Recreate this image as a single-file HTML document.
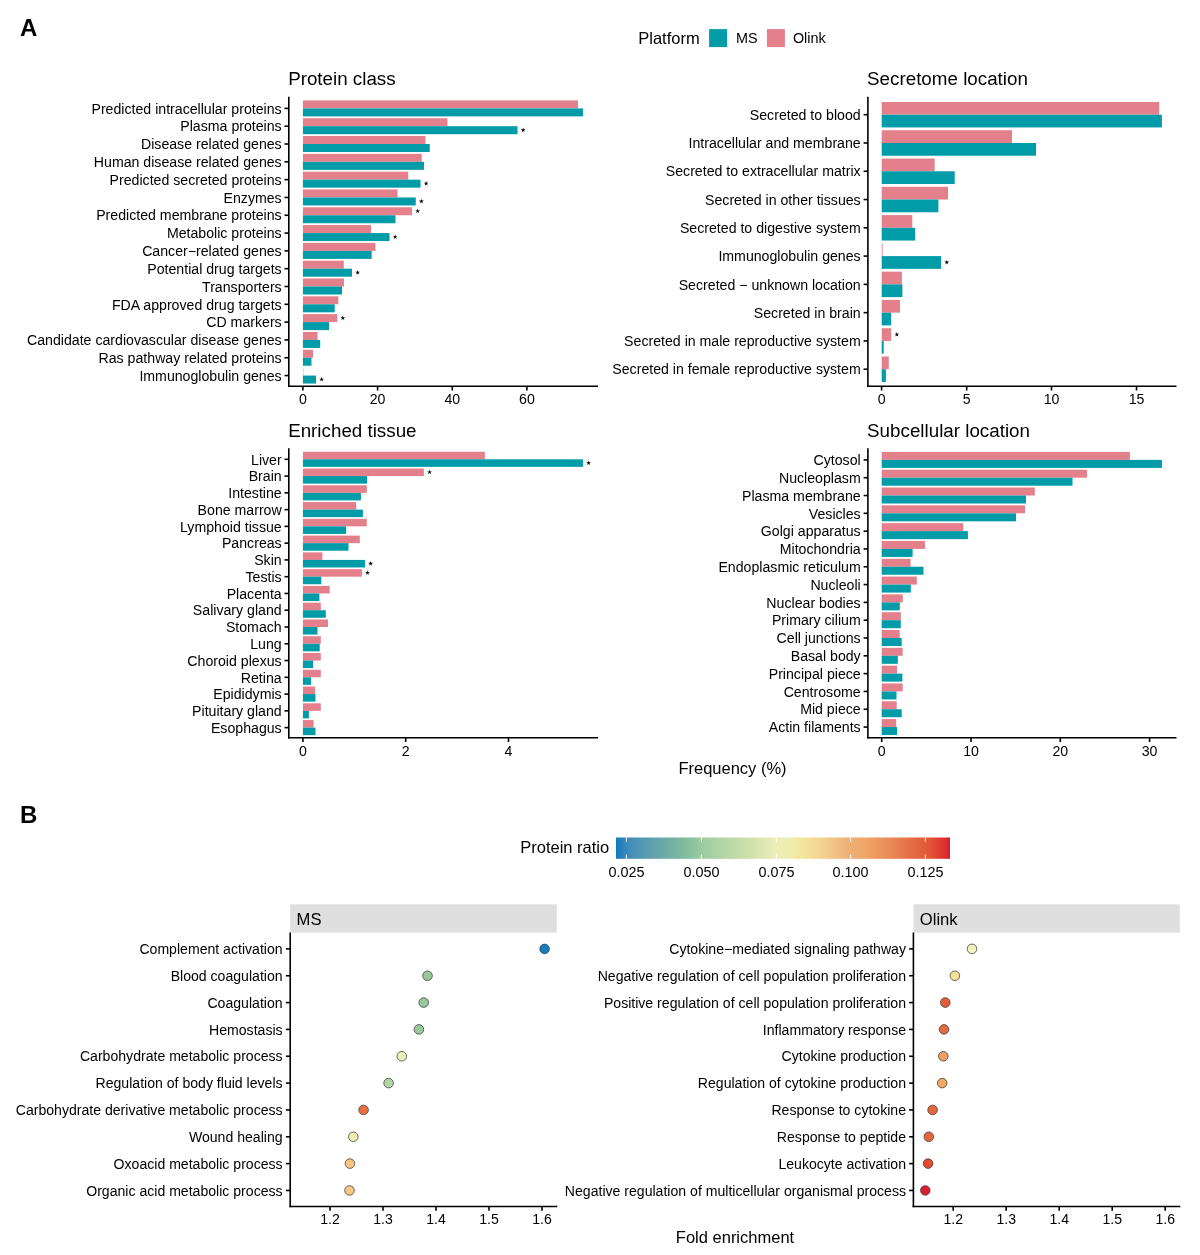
<!DOCTYPE html>
<html><head><meta charset="utf-8"><title>Figure</title>
<style>
html,body{margin:0;padding:0;background:#fff;}
body{width:1200px;height:1255px;overflow:hidden;}
svg{display:block;font-family:"Liberation Sans", sans-serif;will-change:transform;}
</style></head><body>
<svg width="1200" height="1255" viewBox="0 0 1200 1255">
<rect width="1200" height="1255" fill="#fff"/>
<text x="20.10" y="36.20" font-size="24" font-weight="bold" fill="#000">A</text>
<text x="638.25" y="43.60" font-size="16.5" fill="#000">Platform</text>
<rect x="709.10" y="29.10" width="18.00" height="18.00" fill="#029BA8"/>
<text x="735.92" y="43.30" font-size="14.4" fill="#000">MS</text>
<rect x="766.90" y="29.10" width="18.00" height="18.00" fill="#E4808C"/>
<text x="792.92" y="43.30" font-size="14.4" fill="#000">Olink</text>
<text x="288.15" y="85.30" font-size="18.8" fill="#000">Protein class</text>
<rect x="302.90" y="100.40" width="275.10" height="8.00" fill="#E4808C"/>
<rect x="302.90" y="108.40" width="280.10" height="8.00" fill="#029BA8"/>
<line x1="284.50" y1="108.40" x2="288.80" y2="108.40" stroke="#000" stroke-width="1.6" stroke-linecap="butt"/>
<text x="281.70" y="113.60" font-size="14.15" text-anchor="end" fill="#000">Predicted intracellular proteins</text>
<rect x="302.90" y="118.21" width="144.60" height="8.00" fill="#E4808C"/>
<rect x="302.90" y="126.21" width="214.60" height="8.00" fill="#029BA8"/>
<polygon points="523.15,127.51 523.69,129.37 525.62,129.31 524.02,130.39 524.68,132.21 523.15,131.03 521.62,132.21 522.28,130.39 520.68,129.31 522.61,129.37" fill="#000"/>
<line x1="284.50" y1="126.21" x2="288.80" y2="126.21" stroke="#000" stroke-width="1.6" stroke-linecap="butt"/>
<text x="281.70" y="131.41" font-size="14.15" text-anchor="end" fill="#000">Plasma proteins</text>
<rect x="302.90" y="136.02" width="122.60" height="8.00" fill="#E4808C"/>
<rect x="302.90" y="144.02" width="126.85" height="8.00" fill="#029BA8"/>
<line x1="284.50" y1="144.02" x2="288.80" y2="144.02" stroke="#000" stroke-width="1.6" stroke-linecap="butt"/>
<text x="281.70" y="149.22" font-size="14.15" text-anchor="end" fill="#000">Disease related genes</text>
<rect x="302.90" y="153.83" width="118.85" height="8.00" fill="#E4808C"/>
<rect x="302.90" y="161.83" width="121.10" height="8.00" fill="#029BA8"/>
<line x1="284.50" y1="161.83" x2="288.80" y2="161.83" stroke="#000" stroke-width="1.6" stroke-linecap="butt"/>
<text x="281.70" y="167.03" font-size="14.15" text-anchor="end" fill="#000">Human disease related genes</text>
<rect x="302.90" y="171.64" width="105.35" height="8.00" fill="#E4808C"/>
<rect x="302.90" y="179.64" width="117.60" height="8.00" fill="#029BA8"/>
<polygon points="426.15,180.94 426.69,182.80 428.62,182.74 427.02,183.82 427.68,185.64 426.15,184.46 424.62,185.64 425.28,183.82 423.68,182.74 425.61,182.80" fill="#000"/>
<line x1="284.50" y1="179.64" x2="288.80" y2="179.64" stroke="#000" stroke-width="1.6" stroke-linecap="butt"/>
<text x="281.70" y="184.84" font-size="14.15" text-anchor="end" fill="#000">Predicted secreted proteins</text>
<rect x="302.90" y="189.45" width="94.60" height="8.00" fill="#E4808C"/>
<rect x="302.90" y="197.45" width="112.85" height="8.00" fill="#029BA8"/>
<polygon points="421.40,198.75 421.94,200.61 423.87,200.55 422.27,201.63 422.93,203.45 421.40,202.27 419.87,203.45 420.53,201.63 418.93,200.55 420.86,200.61" fill="#000"/>
<line x1="284.50" y1="197.45" x2="288.80" y2="197.45" stroke="#000" stroke-width="1.6" stroke-linecap="butt"/>
<text x="281.70" y="202.65" font-size="14.15" text-anchor="end" fill="#000">Enzymes</text>
<rect x="302.90" y="207.26" width="109.10" height="8.00" fill="#E4808C"/>
<rect x="302.90" y="215.26" width="92.60" height="8.00" fill="#029BA8"/>
<polygon points="417.65,208.56 418.19,210.42 420.12,210.36 418.52,211.44 419.18,213.26 417.65,212.08 416.12,213.26 416.78,211.44 415.18,210.36 417.11,210.42" fill="#000"/>
<line x1="284.50" y1="215.26" x2="288.80" y2="215.26" stroke="#000" stroke-width="1.6" stroke-linecap="butt"/>
<text x="281.70" y="220.46" font-size="14.15" text-anchor="end" fill="#000">Predicted membrane proteins</text>
<rect x="302.90" y="225.07" width="68.10" height="8.00" fill="#E4808C"/>
<rect x="302.90" y="233.07" width="86.60" height="8.00" fill="#029BA8"/>
<polygon points="395.15,234.37 395.69,236.23 397.62,236.17 396.02,237.25 396.68,239.07 395.15,237.89 393.62,239.07 394.28,237.25 392.68,236.17 394.61,236.23" fill="#000"/>
<line x1="284.50" y1="233.07" x2="288.80" y2="233.07" stroke="#000" stroke-width="1.6" stroke-linecap="butt"/>
<text x="281.70" y="238.27" font-size="14.15" text-anchor="end" fill="#000">Metabolic proteins</text>
<rect x="302.90" y="242.88" width="72.60" height="8.00" fill="#E4808C"/>
<rect x="302.90" y="250.88" width="68.80" height="8.00" fill="#029BA8"/>
<line x1="284.50" y1="250.88" x2="288.80" y2="250.88" stroke="#000" stroke-width="1.6" stroke-linecap="butt"/>
<text x="281.70" y="256.08" font-size="14.15" text-anchor="end" fill="#000">Cancer−related genes</text>
<rect x="302.90" y="260.69" width="40.90" height="8.00" fill="#E4808C"/>
<rect x="302.90" y="268.69" width="49.10" height="8.00" fill="#029BA8"/>
<polygon points="357.65,269.99 358.19,271.85 360.12,271.79 358.52,272.87 359.18,274.69 357.65,273.51 356.12,274.69 356.78,272.87 355.18,271.79 357.11,271.85" fill="#000"/>
<line x1="284.50" y1="268.69" x2="288.80" y2="268.69" stroke="#000" stroke-width="1.6" stroke-linecap="butt"/>
<text x="281.70" y="273.89" font-size="14.15" text-anchor="end" fill="#000">Potential drug targets</text>
<rect x="302.90" y="278.50" width="41.10" height="8.00" fill="#E4808C"/>
<rect x="302.90" y="286.50" width="39.10" height="8.00" fill="#029BA8"/>
<line x1="284.50" y1="286.50" x2="288.80" y2="286.50" stroke="#000" stroke-width="1.6" stroke-linecap="butt"/>
<text x="281.70" y="291.70" font-size="14.15" text-anchor="end" fill="#000">Transporters</text>
<rect x="302.90" y="296.31" width="35.40" height="8.00" fill="#E4808C"/>
<rect x="302.90" y="304.31" width="31.80" height="8.00" fill="#029BA8"/>
<line x1="284.50" y1="304.31" x2="288.80" y2="304.31" stroke="#000" stroke-width="1.6" stroke-linecap="butt"/>
<text x="281.70" y="309.51" font-size="14.15" text-anchor="end" fill="#000">FDA approved drug targets</text>
<rect x="302.90" y="314.12" width="34.30" height="8.00" fill="#E4808C"/>
<rect x="302.90" y="322.12" width="26.10" height="8.00" fill="#029BA8"/>
<polygon points="342.85,315.42 343.39,317.28 345.32,317.22 343.72,318.30 344.38,320.12 342.85,318.94 341.32,320.12 341.98,318.30 340.38,317.22 342.31,317.28" fill="#000"/>
<line x1="284.50" y1="322.12" x2="288.80" y2="322.12" stroke="#000" stroke-width="1.6" stroke-linecap="butt"/>
<text x="281.70" y="327.32" font-size="14.15" text-anchor="end" fill="#000">CD markers</text>
<rect x="302.90" y="331.93" width="14.60" height="8.00" fill="#E4808C"/>
<rect x="302.90" y="339.93" width="17.30" height="8.00" fill="#029BA8"/>
<line x1="284.50" y1="339.93" x2="288.80" y2="339.93" stroke="#000" stroke-width="1.6" stroke-linecap="butt"/>
<text x="281.70" y="345.13" font-size="14.15" text-anchor="end" fill="#000">Candidate cardiovascular disease genes</text>
<rect x="302.90" y="349.74" width="10.10" height="8.00" fill="#E4808C"/>
<rect x="302.90" y="357.74" width="8.60" height="8.00" fill="#029BA8"/>
<line x1="284.50" y1="357.74" x2="288.80" y2="357.74" stroke="#000" stroke-width="1.6" stroke-linecap="butt"/>
<text x="281.70" y="362.94" font-size="14.15" text-anchor="end" fill="#000">Ras pathway related proteins</text>
<rect x="302.90" y="367.55" width="0.40" height="8.00" fill="#E4808C"/>
<rect x="302.90" y="375.55" width="13.10" height="8.00" fill="#029BA8"/>
<polygon points="321.65,376.85 322.19,378.71 324.12,378.65 322.52,379.73 323.18,381.55 321.65,380.37 320.12,381.55 320.78,379.73 319.18,378.65 321.11,378.71" fill="#000"/>
<line x1="284.50" y1="375.55" x2="288.80" y2="375.55" stroke="#000" stroke-width="1.6" stroke-linecap="butt"/>
<text x="281.70" y="380.75" font-size="14.15" text-anchor="end" fill="#000">Immunoglobulin genes</text>
<line x1="288.80" y1="96.80" x2="288.80" y2="387.00" stroke="#000" stroke-width="1.6" stroke-linecap="butt"/>
<line x1="288.00" y1="386.20" x2="598.00" y2="386.20" stroke="#000" stroke-width="1.6" stroke-linecap="butt"/>
<line x1="302.90" y1="386.20" x2="302.90" y2="390.50" stroke="#000" stroke-width="1.6" stroke-linecap="butt"/>
<text x="302.90" y="404.30" font-size="14.15" text-anchor="middle" fill="#000">0</text>
<line x1="377.60" y1="386.20" x2="377.60" y2="390.50" stroke="#000" stroke-width="1.6" stroke-linecap="butt"/>
<text x="377.60" y="404.30" font-size="14.15" text-anchor="middle" fill="#000">20</text>
<line x1="452.30" y1="386.20" x2="452.30" y2="390.50" stroke="#000" stroke-width="1.6" stroke-linecap="butt"/>
<text x="452.30" y="404.30" font-size="14.15" text-anchor="middle" fill="#000">40</text>
<line x1="526.90" y1="386.20" x2="526.90" y2="390.50" stroke="#000" stroke-width="1.6" stroke-linecap="butt"/>
<text x="526.90" y="404.30" font-size="14.15" text-anchor="middle" fill="#000">60</text>
<text x="867.10" y="85.30" font-size="18.8" fill="#000">Secretome location</text>
<rect x="881.70" y="101.97" width="277.50" height="12.73" fill="#E4808C"/>
<rect x="881.70" y="114.70" width="280.20" height="12.73" fill="#029BA8"/>
<line x1="863.60" y1="114.70" x2="867.90" y2="114.70" stroke="#000" stroke-width="1.6" stroke-linecap="butt"/>
<text x="860.70" y="119.90" font-size="14.15" text-anchor="end" fill="#000">Secreted to blood</text>
<rect x="881.70" y="130.25" width="130.30" height="12.73" fill="#E4808C"/>
<rect x="881.70" y="142.98" width="154.30" height="12.73" fill="#029BA8"/>
<line x1="863.60" y1="142.98" x2="867.90" y2="142.98" stroke="#000" stroke-width="1.6" stroke-linecap="butt"/>
<text x="860.70" y="148.18" font-size="14.15" text-anchor="end" fill="#000">Intracellular and membrane</text>
<rect x="881.70" y="158.53" width="53.00" height="12.73" fill="#E4808C"/>
<rect x="881.70" y="171.26" width="73.00" height="12.73" fill="#029BA8"/>
<line x1="863.60" y1="171.26" x2="867.90" y2="171.26" stroke="#000" stroke-width="1.6" stroke-linecap="butt"/>
<text x="860.70" y="176.46" font-size="14.15" text-anchor="end" fill="#000">Secreted to extracellular matrix</text>
<rect x="881.70" y="186.81" width="66.30" height="12.73" fill="#E4808C"/>
<rect x="881.70" y="199.54" width="56.70" height="12.73" fill="#029BA8"/>
<line x1="863.60" y1="199.54" x2="867.90" y2="199.54" stroke="#000" stroke-width="1.6" stroke-linecap="butt"/>
<text x="860.70" y="204.74" font-size="14.15" text-anchor="end" fill="#000">Secreted in other tissues</text>
<rect x="881.70" y="215.09" width="30.60" height="12.73" fill="#E4808C"/>
<rect x="881.70" y="227.82" width="33.50" height="12.73" fill="#029BA8"/>
<line x1="863.60" y1="227.82" x2="867.90" y2="227.82" stroke="#000" stroke-width="1.6" stroke-linecap="butt"/>
<text x="860.70" y="233.02" font-size="14.15" text-anchor="end" fill="#000">Secreted to digestive system</text>
<rect x="881.70" y="243.37" width="0.90" height="12.73" fill="#E4808C"/>
<rect x="881.70" y="256.10" width="59.40" height="12.73" fill="#029BA8"/>
<polygon points="946.75,259.76 947.29,261.62 949.22,261.56 947.62,262.65 948.28,264.47 946.75,263.29 945.22,264.47 945.88,262.65 944.28,261.56 946.21,261.62" fill="#000"/>
<line x1="863.60" y1="256.10" x2="867.90" y2="256.10" stroke="#000" stroke-width="1.6" stroke-linecap="butt"/>
<text x="860.70" y="261.30" font-size="14.15" text-anchor="end" fill="#000">Immunoglobulin genes</text>
<rect x="881.70" y="271.65" width="20.20" height="12.73" fill="#E4808C"/>
<rect x="881.70" y="284.38" width="20.70" height="12.73" fill="#029BA8"/>
<line x1="863.60" y1="284.38" x2="867.90" y2="284.38" stroke="#000" stroke-width="1.6" stroke-linecap="butt"/>
<text x="860.70" y="289.58" font-size="14.15" text-anchor="end" fill="#000">Secreted − unknown location</text>
<rect x="881.70" y="299.93" width="18.30" height="12.73" fill="#E4808C"/>
<rect x="881.70" y="312.66" width="9.50" height="12.73" fill="#029BA8"/>
<line x1="863.60" y1="312.66" x2="867.90" y2="312.66" stroke="#000" stroke-width="1.6" stroke-linecap="butt"/>
<text x="860.70" y="317.86" font-size="14.15" text-anchor="end" fill="#000">Secreted in brain</text>
<rect x="881.70" y="328.21" width="9.50" height="12.73" fill="#E4808C"/>
<rect x="881.70" y="340.94" width="2.00" height="12.73" fill="#029BA8"/>
<polygon points="896.85,331.87 897.39,333.73 899.32,333.67 897.72,334.76 898.38,336.58 896.85,335.39 895.32,336.58 895.98,334.76 894.38,333.67 896.31,333.73" fill="#000"/>
<line x1="863.60" y1="340.94" x2="867.90" y2="340.94" stroke="#000" stroke-width="1.6" stroke-linecap="butt"/>
<text x="860.70" y="346.14" font-size="14.15" text-anchor="end" fill="#000">Secreted in male reproductive system</text>
<rect x="881.70" y="356.49" width="7.10" height="12.73" fill="#E4808C"/>
<rect x="881.70" y="369.22" width="4.20" height="12.73" fill="#029BA8"/>
<line x1="863.60" y1="369.22" x2="867.90" y2="369.22" stroke="#000" stroke-width="1.6" stroke-linecap="butt"/>
<text x="860.70" y="374.42" font-size="14.15" text-anchor="end" fill="#000">Secreted in female reproductive system</text>
<line x1="867.90" y1="96.80" x2="867.90" y2="387.00" stroke="#000" stroke-width="1.6" stroke-linecap="butt"/>
<line x1="867.10" y1="386.20" x2="1176.50" y2="386.20" stroke="#000" stroke-width="1.6" stroke-linecap="butt"/>
<line x1="881.60" y1="386.20" x2="881.60" y2="390.50" stroke="#000" stroke-width="1.6" stroke-linecap="butt"/>
<text x="881.60" y="404.30" font-size="14.15" text-anchor="middle" fill="#000">0</text>
<line x1="966.70" y1="386.20" x2="966.70" y2="390.50" stroke="#000" stroke-width="1.6" stroke-linecap="butt"/>
<text x="966.70" y="404.30" font-size="14.15" text-anchor="middle" fill="#000">5</text>
<line x1="1051.50" y1="386.20" x2="1051.50" y2="390.50" stroke="#000" stroke-width="1.6" stroke-linecap="butt"/>
<text x="1051.50" y="404.30" font-size="14.15" text-anchor="middle" fill="#000">10</text>
<line x1="1136.50" y1="386.20" x2="1136.50" y2="390.50" stroke="#000" stroke-width="1.6" stroke-linecap="butt"/>
<text x="1136.50" y="404.30" font-size="14.15" text-anchor="middle" fill="#000">15</text>
<text x="288.15" y="436.80" font-size="18.8" fill="#000">Enriched tissue</text>
<rect x="302.90" y="451.75" width="182.00" height="7.55" fill="#E4808C"/>
<rect x="302.90" y="459.30" width="280.10" height="7.55" fill="#029BA8"/>
<polygon points="588.65,460.37 589.19,462.23 591.12,462.17 589.52,463.26 590.18,465.08 588.65,463.89 587.12,465.08 587.78,463.26 586.18,462.17 588.11,462.23" fill="#000"/>
<line x1="284.50" y1="459.30" x2="288.80" y2="459.30" stroke="#000" stroke-width="1.6" stroke-linecap="butt"/>
<text x="281.70" y="464.50" font-size="14.15" text-anchor="end" fill="#000">Liver</text>
<rect x="302.90" y="468.52" width="121.00" height="7.55" fill="#E4808C"/>
<rect x="302.90" y="476.07" width="64.20" height="7.55" fill="#029BA8"/>
<polygon points="429.55,469.59 430.09,471.45 432.02,471.39 430.42,472.48 431.08,474.30 429.55,473.12 428.02,474.30 428.68,472.48 427.08,471.39 429.01,471.45" fill="#000"/>
<line x1="284.50" y1="476.07" x2="288.80" y2="476.07" stroke="#000" stroke-width="1.6" stroke-linecap="butt"/>
<text x="281.70" y="481.27" font-size="14.15" text-anchor="end" fill="#000">Brain</text>
<rect x="302.90" y="485.29" width="63.90" height="7.55" fill="#E4808C"/>
<rect x="302.90" y="492.84" width="58.00" height="7.55" fill="#029BA8"/>
<line x1="284.50" y1="492.84" x2="288.80" y2="492.84" stroke="#000" stroke-width="1.6" stroke-linecap="butt"/>
<text x="281.70" y="498.04" font-size="14.15" text-anchor="end" fill="#000">Intestine</text>
<rect x="302.90" y="502.06" width="53.30" height="7.55" fill="#E4808C"/>
<rect x="302.90" y="509.61" width="60.00" height="7.55" fill="#029BA8"/>
<line x1="284.50" y1="509.61" x2="288.80" y2="509.61" stroke="#000" stroke-width="1.6" stroke-linecap="butt"/>
<text x="281.70" y="514.81" font-size="14.15" text-anchor="end" fill="#000">Bone marrow</text>
<rect x="302.90" y="518.83" width="63.90" height="7.55" fill="#E4808C"/>
<rect x="302.90" y="526.38" width="43.20" height="7.55" fill="#029BA8"/>
<line x1="284.50" y1="526.38" x2="288.80" y2="526.38" stroke="#000" stroke-width="1.6" stroke-linecap="butt"/>
<text x="281.70" y="531.58" font-size="14.15" text-anchor="end" fill="#000">Lymphoid tissue</text>
<rect x="302.90" y="535.60" width="56.90" height="7.55" fill="#E4808C"/>
<rect x="302.90" y="543.15" width="45.60" height="7.55" fill="#029BA8"/>
<line x1="284.50" y1="543.15" x2="288.80" y2="543.15" stroke="#000" stroke-width="1.6" stroke-linecap="butt"/>
<text x="281.70" y="548.35" font-size="14.15" text-anchor="end" fill="#000">Pancreas</text>
<rect x="302.90" y="552.37" width="19.50" height="7.55" fill="#E4808C"/>
<rect x="302.90" y="559.92" width="62.10" height="7.55" fill="#029BA8"/>
<polygon points="370.65,561.00 371.19,562.85 373.12,562.79 371.52,563.88 372.18,565.70 370.65,564.51 369.12,565.70 369.78,563.88 368.18,562.79 370.11,562.85" fill="#000"/>
<line x1="284.50" y1="559.92" x2="288.80" y2="559.92" stroke="#000" stroke-width="1.6" stroke-linecap="butt"/>
<text x="281.70" y="565.12" font-size="14.15" text-anchor="end" fill="#000">Skin</text>
<rect x="302.90" y="569.14" width="59.00" height="7.55" fill="#E4808C"/>
<rect x="302.90" y="576.69" width="18.40" height="7.55" fill="#029BA8"/>
<polygon points="367.55,570.22 368.09,572.07 370.02,572.01 368.42,573.10 369.08,574.92 367.55,573.74 366.02,574.92 366.68,573.10 365.08,572.01 367.01,572.07" fill="#000"/>
<line x1="284.50" y1="576.69" x2="288.80" y2="576.69" stroke="#000" stroke-width="1.6" stroke-linecap="butt"/>
<text x="281.70" y="581.89" font-size="14.15" text-anchor="end" fill="#000">Testis</text>
<rect x="302.90" y="585.91" width="26.80" height="7.55" fill="#E4808C"/>
<rect x="302.90" y="593.46" width="16.50" height="7.55" fill="#029BA8"/>
<line x1="284.50" y1="593.46" x2="288.80" y2="593.46" stroke="#000" stroke-width="1.6" stroke-linecap="butt"/>
<text x="281.70" y="598.66" font-size="14.15" text-anchor="end" fill="#000">Placenta</text>
<rect x="302.90" y="602.68" width="17.90" height="7.55" fill="#E4808C"/>
<rect x="302.90" y="610.23" width="22.90" height="7.55" fill="#029BA8"/>
<line x1="284.50" y1="610.23" x2="288.80" y2="610.23" stroke="#000" stroke-width="1.6" stroke-linecap="butt"/>
<text x="281.70" y="615.43" font-size="14.15" text-anchor="end" fill="#000">Salivary gland</text>
<rect x="302.90" y="619.45" width="25.10" height="7.55" fill="#E4808C"/>
<rect x="302.90" y="627.00" width="14.60" height="7.55" fill="#029BA8"/>
<line x1="284.50" y1="627.00" x2="288.80" y2="627.00" stroke="#000" stroke-width="1.6" stroke-linecap="butt"/>
<text x="281.70" y="632.20" font-size="14.15" text-anchor="end" fill="#000">Stomach</text>
<rect x="302.90" y="636.22" width="17.90" height="7.55" fill="#E4808C"/>
<rect x="302.90" y="643.77" width="16.80" height="7.55" fill="#029BA8"/>
<line x1="284.50" y1="643.77" x2="288.80" y2="643.77" stroke="#000" stroke-width="1.6" stroke-linecap="butt"/>
<text x="281.70" y="648.97" font-size="14.15" text-anchor="end" fill="#000">Lung</text>
<rect x="302.90" y="652.99" width="17.90" height="7.55" fill="#E4808C"/>
<rect x="302.90" y="660.54" width="10.30" height="7.55" fill="#029BA8"/>
<line x1="284.50" y1="660.54" x2="288.80" y2="660.54" stroke="#000" stroke-width="1.6" stroke-linecap="butt"/>
<text x="281.70" y="665.74" font-size="14.15" text-anchor="end" fill="#000">Choroid plexus</text>
<rect x="302.90" y="669.76" width="17.90" height="7.55" fill="#E4808C"/>
<rect x="302.90" y="677.31" width="8.10" height="7.55" fill="#029BA8"/>
<line x1="284.50" y1="677.31" x2="288.80" y2="677.31" stroke="#000" stroke-width="1.6" stroke-linecap="butt"/>
<text x="281.70" y="682.51" font-size="14.15" text-anchor="end" fill="#000">Retina</text>
<rect x="302.90" y="686.53" width="12.20" height="7.55" fill="#E4808C"/>
<rect x="302.90" y="694.08" width="12.60" height="7.55" fill="#029BA8"/>
<line x1="284.50" y1="694.08" x2="288.80" y2="694.08" stroke="#000" stroke-width="1.6" stroke-linecap="butt"/>
<text x="281.70" y="699.28" font-size="14.15" text-anchor="end" fill="#000">Epididymis</text>
<rect x="302.90" y="703.30" width="17.90" height="7.55" fill="#E4808C"/>
<rect x="302.90" y="710.85" width="6.00" height="7.55" fill="#029BA8"/>
<line x1="284.50" y1="710.85" x2="288.80" y2="710.85" stroke="#000" stroke-width="1.6" stroke-linecap="butt"/>
<text x="281.70" y="716.05" font-size="14.15" text-anchor="end" fill="#000">Pituitary gland</text>
<rect x="302.90" y="720.07" width="10.70" height="7.55" fill="#E4808C"/>
<rect x="302.90" y="727.62" width="12.60" height="7.55" fill="#029BA8"/>
<line x1="284.50" y1="727.62" x2="288.80" y2="727.62" stroke="#000" stroke-width="1.6" stroke-linecap="butt"/>
<text x="281.70" y="732.82" font-size="14.15" text-anchor="end" fill="#000">Esophagus</text>
<line x1="288.80" y1="448.30" x2="288.80" y2="738.50" stroke="#000" stroke-width="1.6" stroke-linecap="butt"/>
<line x1="288.00" y1="737.70" x2="598.00" y2="737.70" stroke="#000" stroke-width="1.6" stroke-linecap="butt"/>
<line x1="302.90" y1="737.70" x2="302.90" y2="742.00" stroke="#000" stroke-width="1.6" stroke-linecap="butt"/>
<text x="302.90" y="755.80" font-size="14.15" text-anchor="middle" fill="#000">0</text>
<line x1="405.70" y1="737.70" x2="405.70" y2="742.00" stroke="#000" stroke-width="1.6" stroke-linecap="butt"/>
<text x="405.70" y="755.80" font-size="14.15" text-anchor="middle" fill="#000">2</text>
<line x1="508.50" y1="737.70" x2="508.50" y2="742.00" stroke="#000" stroke-width="1.6" stroke-linecap="butt"/>
<text x="508.50" y="755.80" font-size="14.15" text-anchor="middle" fill="#000">4</text>
<text x="867.10" y="436.80" font-size="18.8" fill="#000">Subcellular location</text>
<rect x="881.70" y="451.90" width="248.20" height="8.00" fill="#E4808C"/>
<rect x="881.70" y="459.90" width="280.20" height="8.00" fill="#029BA8"/>
<line x1="863.60" y1="459.90" x2="867.90" y2="459.90" stroke="#000" stroke-width="1.6" stroke-linecap="butt"/>
<text x="860.70" y="465.10" font-size="14.15" text-anchor="end" fill="#000">Cytosol</text>
<rect x="881.70" y="469.71" width="205.30" height="8.00" fill="#E4808C"/>
<rect x="881.70" y="477.71" width="190.80" height="8.00" fill="#029BA8"/>
<line x1="863.60" y1="477.71" x2="867.90" y2="477.71" stroke="#000" stroke-width="1.6" stroke-linecap="butt"/>
<text x="860.70" y="482.91" font-size="14.15" text-anchor="end" fill="#000">Nucleoplasm</text>
<rect x="881.70" y="487.52" width="153.10" height="8.00" fill="#E4808C"/>
<rect x="881.70" y="495.52" width="144.30" height="8.00" fill="#029BA8"/>
<line x1="863.60" y1="495.52" x2="867.90" y2="495.52" stroke="#000" stroke-width="1.6" stroke-linecap="butt"/>
<text x="860.70" y="500.72" font-size="14.15" text-anchor="end" fill="#000">Plasma membrane</text>
<rect x="881.70" y="505.33" width="143.30" height="8.00" fill="#E4808C"/>
<rect x="881.70" y="513.33" width="134.30" height="8.00" fill="#029BA8"/>
<line x1="863.60" y1="513.33" x2="867.90" y2="513.33" stroke="#000" stroke-width="1.6" stroke-linecap="butt"/>
<text x="860.70" y="518.53" font-size="14.15" text-anchor="end" fill="#000">Vesicles</text>
<rect x="881.70" y="523.14" width="81.60" height="8.00" fill="#E4808C"/>
<rect x="881.70" y="531.14" width="86.20" height="8.00" fill="#029BA8"/>
<line x1="863.60" y1="531.14" x2="867.90" y2="531.14" stroke="#000" stroke-width="1.6" stroke-linecap="butt"/>
<text x="860.70" y="536.34" font-size="14.15" text-anchor="end" fill="#000">Golgi apparatus</text>
<rect x="881.70" y="540.95" width="43.30" height="8.00" fill="#E4808C"/>
<rect x="881.70" y="548.95" width="30.90" height="8.00" fill="#029BA8"/>
<line x1="863.60" y1="548.95" x2="867.90" y2="548.95" stroke="#000" stroke-width="1.6" stroke-linecap="butt"/>
<text x="860.70" y="554.15" font-size="14.15" text-anchor="end" fill="#000">Mitochondria</text>
<rect x="881.70" y="558.76" width="28.90" height="8.00" fill="#E4808C"/>
<rect x="881.70" y="566.76" width="41.80" height="8.00" fill="#029BA8"/>
<line x1="863.60" y1="566.76" x2="867.90" y2="566.76" stroke="#000" stroke-width="1.6" stroke-linecap="butt"/>
<text x="860.70" y="571.96" font-size="14.15" text-anchor="end" fill="#000">Endoplasmic reticulum</text>
<rect x="881.70" y="576.57" width="35.10" height="8.00" fill="#E4808C"/>
<rect x="881.70" y="584.57" width="29.10" height="8.00" fill="#029BA8"/>
<line x1="863.60" y1="584.57" x2="867.90" y2="584.57" stroke="#000" stroke-width="1.6" stroke-linecap="butt"/>
<text x="860.70" y="589.77" font-size="14.15" text-anchor="end" fill="#000">Nucleoli</text>
<rect x="881.70" y="594.38" width="21.10" height="8.00" fill="#E4808C"/>
<rect x="881.70" y="602.38" width="18.10" height="8.00" fill="#029BA8"/>
<line x1="863.60" y1="602.38" x2="867.90" y2="602.38" stroke="#000" stroke-width="1.6" stroke-linecap="butt"/>
<text x="860.70" y="607.58" font-size="14.15" text-anchor="end" fill="#000">Nuclear bodies</text>
<rect x="881.70" y="612.19" width="19.10" height="8.00" fill="#E4808C"/>
<rect x="881.70" y="620.19" width="19.10" height="8.00" fill="#029BA8"/>
<line x1="863.60" y1="620.19" x2="867.90" y2="620.19" stroke="#000" stroke-width="1.6" stroke-linecap="butt"/>
<text x="860.70" y="625.39" font-size="14.15" text-anchor="end" fill="#000">Primary cilium</text>
<rect x="881.70" y="630.00" width="18.00" height="8.00" fill="#E4808C"/>
<rect x="881.70" y="638.00" width="20.00" height="8.00" fill="#029BA8"/>
<line x1="863.60" y1="638.00" x2="867.90" y2="638.00" stroke="#000" stroke-width="1.6" stroke-linecap="butt"/>
<text x="860.70" y="643.20" font-size="14.15" text-anchor="end" fill="#000">Cell junctions</text>
<rect x="881.70" y="647.81" width="21.00" height="8.00" fill="#E4808C"/>
<rect x="881.70" y="655.81" width="16.10" height="8.00" fill="#029BA8"/>
<line x1="863.60" y1="655.81" x2="867.90" y2="655.81" stroke="#000" stroke-width="1.6" stroke-linecap="butt"/>
<text x="860.70" y="661.01" font-size="14.15" text-anchor="end" fill="#000">Basal body</text>
<rect x="881.70" y="665.62" width="15.30" height="8.00" fill="#E4808C"/>
<rect x="881.70" y="673.62" width="20.70" height="8.00" fill="#029BA8"/>
<line x1="863.60" y1="673.62" x2="867.90" y2="673.62" stroke="#000" stroke-width="1.6" stroke-linecap="butt"/>
<text x="860.70" y="678.82" font-size="14.15" text-anchor="end" fill="#000">Principal piece</text>
<rect x="881.70" y="683.43" width="21.00" height="8.00" fill="#E4808C"/>
<rect x="881.70" y="691.43" width="14.80" height="8.00" fill="#029BA8"/>
<line x1="863.60" y1="691.43" x2="867.90" y2="691.43" stroke="#000" stroke-width="1.6" stroke-linecap="butt"/>
<text x="860.70" y="696.63" font-size="14.15" text-anchor="end" fill="#000">Centrosome</text>
<rect x="881.70" y="701.24" width="15.00" height="8.00" fill="#E4808C"/>
<rect x="881.70" y="709.24" width="20.00" height="8.00" fill="#029BA8"/>
<line x1="863.60" y1="709.24" x2="867.90" y2="709.24" stroke="#000" stroke-width="1.6" stroke-linecap="butt"/>
<text x="860.70" y="714.44" font-size="14.15" text-anchor="end" fill="#000">Mid piece</text>
<rect x="881.70" y="719.05" width="14.50" height="8.00" fill="#E4808C"/>
<rect x="881.70" y="727.05" width="15.30" height="8.00" fill="#029BA8"/>
<line x1="863.60" y1="727.05" x2="867.90" y2="727.05" stroke="#000" stroke-width="1.6" stroke-linecap="butt"/>
<text x="860.70" y="732.25" font-size="14.15" text-anchor="end" fill="#000">Actin filaments</text>
<line x1="867.90" y1="448.30" x2="867.90" y2="738.50" stroke="#000" stroke-width="1.6" stroke-linecap="butt"/>
<line x1="867.10" y1="737.70" x2="1176.50" y2="737.70" stroke="#000" stroke-width="1.6" stroke-linecap="butt"/>
<line x1="881.70" y1="737.70" x2="881.70" y2="742.00" stroke="#000" stroke-width="1.6" stroke-linecap="butt"/>
<text x="881.70" y="755.80" font-size="14.15" text-anchor="middle" fill="#000">0</text>
<line x1="971.00" y1="737.70" x2="971.00" y2="742.00" stroke="#000" stroke-width="1.6" stroke-linecap="butt"/>
<text x="971.00" y="755.80" font-size="14.15" text-anchor="middle" fill="#000">10</text>
<line x1="1060.30" y1="737.70" x2="1060.30" y2="742.00" stroke="#000" stroke-width="1.6" stroke-linecap="butt"/>
<text x="1060.30" y="755.80" font-size="14.15" text-anchor="middle" fill="#000">20</text>
<line x1="1149.60" y1="737.70" x2="1149.60" y2="742.00" stroke="#000" stroke-width="1.6" stroke-linecap="butt"/>
<text x="1149.60" y="755.80" font-size="14.15" text-anchor="middle" fill="#000">30</text>
<text x="732.50" y="774.00" font-size="16.5" text-anchor="middle" fill="#000">Frequency (%)</text>
<text x="20.09" y="823.00" font-size="24" font-weight="bold" fill="#000">B</text>
<text x="520.25" y="853.40" font-size="16.5" fill="#000">Protein ratio</text>
<defs><linearGradient id="cb" x1="0" x2="1" y1="0" y2="0"><stop offset="0.0" stop-color="#1479BD"/><stop offset="0.03" stop-color="#3A88BA"/><stop offset="0.057" stop-color="#4A93B8"/><stop offset="0.102" stop-color="#5E9EAE"/><stop offset="0.207" stop-color="#80BC9C"/><stop offset="0.251" stop-color="#9ACA9F"/><stop offset="0.311" stop-color="#B0D4A6"/><stop offset="0.401" stop-color="#CFE1AA"/><stop offset="0.476" stop-color="#EDEDB8"/><stop offset="0.521" stop-color="#EFEDAE"/><stop offset="0.566" stop-color="#F4E39A"/><stop offset="0.626" stop-color="#F2CF8F"/><stop offset="0.686" stop-color="#EFB479"/><stop offset="0.749" stop-color="#EFA466"/><stop offset="0.82" stop-color="#EA8A58"/><stop offset="0.88" stop-color="#E56F45"/><stop offset="0.94" stop-color="#E25535"/><stop offset="0.985" stop-color="#DD2F2E"/><stop offset="1.0" stop-color="#D91B2E"/></linearGradient></defs>
<rect x="616" y="837.5" width="334" height="21.3" fill="url(#cb)"/>
<line x1="626.40" y1="837.50" x2="626.40" y2="841.80" stroke="#fff" stroke-width="1.0" stroke-linecap="butt"/>
<line x1="626.40" y1="854.50" x2="626.40" y2="858.80" stroke="#fff" stroke-width="1.0" stroke-linecap="butt"/>
<text x="626.40" y="876.60" font-size="14.4" text-anchor="middle" fill="#000">0.025</text>
<line x1="701.40" y1="837.50" x2="701.40" y2="841.80" stroke="#fff" stroke-width="1.0" stroke-linecap="butt"/>
<line x1="701.40" y1="854.50" x2="701.40" y2="858.80" stroke="#fff" stroke-width="1.0" stroke-linecap="butt"/>
<text x="701.40" y="876.60" font-size="14.4" text-anchor="middle" fill="#000">0.050</text>
<line x1="776.40" y1="837.50" x2="776.40" y2="841.80" stroke="#fff" stroke-width="1.0" stroke-linecap="butt"/>
<line x1="776.40" y1="854.50" x2="776.40" y2="858.80" stroke="#fff" stroke-width="1.0" stroke-linecap="butt"/>
<text x="776.40" y="876.60" font-size="14.4" text-anchor="middle" fill="#000">0.075</text>
<line x1="850.60" y1="837.50" x2="850.60" y2="841.80" stroke="#fff" stroke-width="1.0" stroke-linecap="butt"/>
<line x1="850.60" y1="854.50" x2="850.60" y2="858.80" stroke="#fff" stroke-width="1.0" stroke-linecap="butt"/>
<text x="850.60" y="876.60" font-size="14.4" text-anchor="middle" fill="#000">0.100</text>
<line x1="925.40" y1="837.50" x2="925.40" y2="841.80" stroke="#fff" stroke-width="1.0" stroke-linecap="butt"/>
<line x1="925.40" y1="854.50" x2="925.40" y2="858.80" stroke="#fff" stroke-width="1.0" stroke-linecap="butt"/>
<text x="925.40" y="876.60" font-size="14.4" text-anchor="middle" fill="#000">0.125</text>
<rect x="290.20" y="904.25" width="266.60" height="28.35" fill="#DFDFDF"/>
<text x="296.59" y="924.80" font-size="16.6" fill="#000">MS</text>
<line x1="285.90" y1="948.90" x2="290.20" y2="948.90" stroke="#000" stroke-width="1.6" stroke-linecap="butt"/>
<text x="282.60" y="954.10" font-size="14.08" text-anchor="end" fill="#000">Complement activation</text>
<circle cx="544.60" cy="948.90" r="4.8" fill="#1380BD" stroke="#3a3a3a" stroke-width="0.75"/>
<line x1="285.90" y1="975.74" x2="290.20" y2="975.74" stroke="#000" stroke-width="1.6" stroke-linecap="butt"/>
<text x="282.60" y="980.94" font-size="14.08" text-anchor="end" fill="#000">Blood coagulation</text>
<circle cx="427.50" cy="975.74" r="4.8" fill="#98C89A" stroke="#3a3a3a" stroke-width="0.75"/>
<line x1="285.90" y1="1002.58" x2="290.20" y2="1002.58" stroke="#000" stroke-width="1.6" stroke-linecap="butt"/>
<text x="282.60" y="1007.78" font-size="14.08" text-anchor="end" fill="#000">Coagulation</text>
<circle cx="423.70" cy="1002.58" r="4.8" fill="#98C89A" stroke="#3a3a3a" stroke-width="0.75"/>
<line x1="285.90" y1="1029.42" x2="290.20" y2="1029.42" stroke="#000" stroke-width="1.6" stroke-linecap="butt"/>
<text x="282.60" y="1034.62" font-size="14.08" text-anchor="end" fill="#000">Hemostasis</text>
<circle cx="418.90" cy="1029.42" r="4.8" fill="#9ACA9B" stroke="#3a3a3a" stroke-width="0.75"/>
<line x1="285.90" y1="1056.26" x2="290.20" y2="1056.26" stroke="#000" stroke-width="1.6" stroke-linecap="butt"/>
<text x="282.60" y="1061.46" font-size="14.08" text-anchor="end" fill="#000">Carbohydrate metabolic process</text>
<circle cx="401.80" cy="1056.26" r="4.8" fill="#EBF0B8" stroke="#3a3a3a" stroke-width="0.75"/>
<line x1="285.90" y1="1083.10" x2="290.20" y2="1083.10" stroke="#000" stroke-width="1.6" stroke-linecap="butt"/>
<text x="282.60" y="1088.30" font-size="14.08" text-anchor="end" fill="#000">Regulation of body fluid levels</text>
<circle cx="388.60" cy="1083.10" r="4.8" fill="#B2D6A3" stroke="#3a3a3a" stroke-width="0.75"/>
<line x1="285.90" y1="1109.94" x2="290.20" y2="1109.94" stroke="#000" stroke-width="1.6" stroke-linecap="butt"/>
<text x="282.60" y="1115.14" font-size="14.08" text-anchor="end" fill="#000">Carbohydrate derivative metabolic process</text>
<circle cx="363.60" cy="1109.94" r="4.8" fill="#E8703F" stroke="#3a3a3a" stroke-width="0.75"/>
<line x1="285.90" y1="1136.78" x2="290.20" y2="1136.78" stroke="#000" stroke-width="1.6" stroke-linecap="butt"/>
<text x="282.60" y="1141.98" font-size="14.08" text-anchor="end" fill="#000">Wound healing</text>
<circle cx="353.30" cy="1136.78" r="4.8" fill="#EEF0B0" stroke="#3a3a3a" stroke-width="0.75"/>
<line x1="285.90" y1="1163.62" x2="290.20" y2="1163.62" stroke="#000" stroke-width="1.6" stroke-linecap="butt"/>
<text x="282.60" y="1168.82" font-size="14.08" text-anchor="end" fill="#000">Oxoacid metabolic process</text>
<circle cx="349.90" cy="1163.62" r="4.8" fill="#F6C682" stroke="#3a3a3a" stroke-width="0.75"/>
<line x1="285.90" y1="1190.46" x2="290.20" y2="1190.46" stroke="#000" stroke-width="1.6" stroke-linecap="butt"/>
<text x="282.60" y="1195.66" font-size="14.08" text-anchor="end" fill="#000">Organic acid metabolic process</text>
<circle cx="349.50" cy="1190.46" r="4.8" fill="#F6C682" stroke="#3a3a3a" stroke-width="0.75"/>
<line x1="290.20" y1="932.60" x2="290.20" y2="1207.30" stroke="#000" stroke-width="1.6" stroke-linecap="butt"/>
<line x1="289.40" y1="1206.50" x2="557.30" y2="1206.50" stroke="#000" stroke-width="1.6" stroke-linecap="butt"/>
<line x1="330.00" y1="1206.50" x2="330.00" y2="1210.80" stroke="#000" stroke-width="1.6" stroke-linecap="butt"/>
<text x="330.00" y="1223.80" font-size="14.08" text-anchor="middle" fill="#000">1.2</text>
<line x1="383.00" y1="1206.50" x2="383.00" y2="1210.80" stroke="#000" stroke-width="1.6" stroke-linecap="butt"/>
<text x="383.00" y="1223.80" font-size="14.08" text-anchor="middle" fill="#000">1.3</text>
<line x1="436.00" y1="1206.50" x2="436.00" y2="1210.80" stroke="#000" stroke-width="1.6" stroke-linecap="butt"/>
<text x="436.00" y="1223.80" font-size="14.08" text-anchor="middle" fill="#000">1.4</text>
<line x1="489.00" y1="1206.50" x2="489.00" y2="1210.80" stroke="#000" stroke-width="1.6" stroke-linecap="butt"/>
<text x="489.00" y="1223.80" font-size="14.08" text-anchor="middle" fill="#000">1.5</text>
<line x1="542.00" y1="1206.50" x2="542.00" y2="1210.80" stroke="#000" stroke-width="1.6" stroke-linecap="butt"/>
<text x="542.00" y="1223.80" font-size="14.08" text-anchor="middle" fill="#000">1.6</text>
<rect x="913.40" y="904.25" width="266.40" height="28.35" fill="#DFDFDF"/>
<text x="919.79" y="924.80" font-size="16.6" fill="#000">Olink</text>
<line x1="909.10" y1="948.90" x2="913.40" y2="948.90" stroke="#000" stroke-width="1.6" stroke-linecap="butt"/>
<text x="906.00" y="954.10" font-size="14.08" text-anchor="end" fill="#000">Cytokine−mediated signaling pathway</text>
<circle cx="972.00" cy="948.90" r="4.8" fill="#F3F2BE" stroke="#3a3a3a" stroke-width="0.75"/>
<line x1="909.10" y1="975.74" x2="913.40" y2="975.74" stroke="#000" stroke-width="1.6" stroke-linecap="butt"/>
<text x="906.00" y="980.94" font-size="14.08" text-anchor="end" fill="#000">Negative regulation of cell population proliferation</text>
<circle cx="954.90" cy="975.74" r="4.8" fill="#F8E39A" stroke="#3a3a3a" stroke-width="0.75"/>
<line x1="909.10" y1="1002.58" x2="913.40" y2="1002.58" stroke="#000" stroke-width="1.6" stroke-linecap="butt"/>
<text x="906.00" y="1007.78" font-size="14.08" text-anchor="end" fill="#000">Positive regulation of cell population proliferation</text>
<circle cx="945.30" cy="1002.58" r="4.8" fill="#E45C3A" stroke="#3a3a3a" stroke-width="0.75"/>
<line x1="909.10" y1="1029.42" x2="913.40" y2="1029.42" stroke="#000" stroke-width="1.6" stroke-linecap="butt"/>
<text x="906.00" y="1034.62" font-size="14.08" text-anchor="end" fill="#000">Inflammatory response</text>
<circle cx="944.00" cy="1029.42" r="4.8" fill="#E56A43" stroke="#3a3a3a" stroke-width="0.75"/>
<line x1="909.10" y1="1056.26" x2="913.40" y2="1056.26" stroke="#000" stroke-width="1.6" stroke-linecap="butt"/>
<text x="906.00" y="1061.46" font-size="14.08" text-anchor="end" fill="#000">Cytokine production</text>
<circle cx="943.30" cy="1056.26" r="4.8" fill="#EFA062" stroke="#3a3a3a" stroke-width="0.75"/>
<line x1="909.10" y1="1083.10" x2="913.40" y2="1083.10" stroke="#000" stroke-width="1.6" stroke-linecap="butt"/>
<text x="906.00" y="1088.30" font-size="14.08" text-anchor="end" fill="#000">Regulation of cytokine production</text>
<circle cx="942.20" cy="1083.10" r="4.8" fill="#F2A862" stroke="#3a3a3a" stroke-width="0.75"/>
<line x1="909.10" y1="1109.94" x2="913.40" y2="1109.94" stroke="#000" stroke-width="1.6" stroke-linecap="butt"/>
<text x="906.00" y="1115.14" font-size="14.08" text-anchor="end" fill="#000">Response to cytokine</text>
<circle cx="932.60" cy="1109.94" r="4.8" fill="#E6663E" stroke="#3a3a3a" stroke-width="0.75"/>
<line x1="909.10" y1="1136.78" x2="913.40" y2="1136.78" stroke="#000" stroke-width="1.6" stroke-linecap="butt"/>
<text x="906.00" y="1141.98" font-size="14.08" text-anchor="end" fill="#000">Response to peptide</text>
<circle cx="928.80" cy="1136.78" r="4.8" fill="#E5663D" stroke="#3a3a3a" stroke-width="0.75"/>
<line x1="909.10" y1="1163.62" x2="913.40" y2="1163.62" stroke="#000" stroke-width="1.6" stroke-linecap="butt"/>
<text x="906.00" y="1168.82" font-size="14.08" text-anchor="end" fill="#000">Leukocyte activation</text>
<circle cx="928.10" cy="1163.62" r="4.8" fill="#E34A32" stroke="#3a3a3a" stroke-width="0.75"/>
<line x1="909.10" y1="1190.46" x2="913.40" y2="1190.46" stroke="#000" stroke-width="1.6" stroke-linecap="butt"/>
<text x="906.00" y="1195.66" font-size="14.08" text-anchor="end" fill="#000">Negative regulation of multicellular organismal process</text>
<circle cx="925.30" cy="1190.46" r="4.8" fill="#DC1C30" stroke="#3a3a3a" stroke-width="0.75"/>
<line x1="913.40" y1="932.60" x2="913.40" y2="1207.30" stroke="#000" stroke-width="1.6" stroke-linecap="butt"/>
<line x1="912.60" y1="1206.50" x2="1180.30" y2="1206.50" stroke="#000" stroke-width="1.6" stroke-linecap="butt"/>
<line x1="953.20" y1="1206.50" x2="953.20" y2="1210.80" stroke="#000" stroke-width="1.6" stroke-linecap="butt"/>
<text x="953.20" y="1223.80" font-size="14.08" text-anchor="middle" fill="#000">1.2</text>
<line x1="1006.20" y1="1206.50" x2="1006.20" y2="1210.80" stroke="#000" stroke-width="1.6" stroke-linecap="butt"/>
<text x="1006.20" y="1223.80" font-size="14.08" text-anchor="middle" fill="#000">1.3</text>
<line x1="1059.20" y1="1206.50" x2="1059.20" y2="1210.80" stroke="#000" stroke-width="1.6" stroke-linecap="butt"/>
<text x="1059.20" y="1223.80" font-size="14.08" text-anchor="middle" fill="#000">1.4</text>
<line x1="1112.20" y1="1206.50" x2="1112.20" y2="1210.80" stroke="#000" stroke-width="1.6" stroke-linecap="butt"/>
<text x="1112.20" y="1223.80" font-size="14.08" text-anchor="middle" fill="#000">1.5</text>
<line x1="1165.20" y1="1206.50" x2="1165.20" y2="1210.80" stroke="#000" stroke-width="1.6" stroke-linecap="butt"/>
<text x="1165.20" y="1223.80" font-size="14.08" text-anchor="middle" fill="#000">1.6</text>
<text x="735.00" y="1243.00" font-size="16.5" text-anchor="middle" fill="#000">Fold enrichment</text>
</svg>
</body></html>
